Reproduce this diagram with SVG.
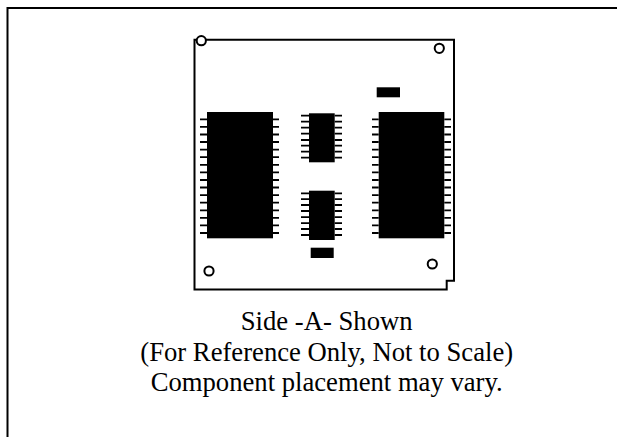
<svg xmlns="http://www.w3.org/2000/svg" width="617" height="437" viewBox="0 0 617 437">
<style>
.f{fill:none;stroke:#000;stroke-width:2}
.o{fill:none;stroke:#000;stroke-width:2}
.h{fill:#fff;stroke:#000;stroke-width:2}
.c{fill:#000}
.p{fill:none;stroke:#000;stroke-width:1.8}
text{font-family:"Liberation Serif","Times New Roman",serif;font-size:26.67px;fill:#000;text-anchor:middle}
</style>
<rect width="617" height="437" fill="#fff"/>
<g id="frame"><path class="f" d="M7.5 437V8H617"/></g>
<g id="board"><path class="o" d="M194.5 39.7H454V280.7H446.7V289.5H194.5Z"/></g>
<g id="chip-left"><rect class="c" x="207" y="112" width="66" height="126.3"/>
<path class="p" d="M200 119.3h7M273 119.3h6M200 126.9h7M273 126.9h6M200 134.5h7M273 134.5h6M200 142h7M273 142h6M200 149.6h7M273 149.6h6M200 157.2h7M273 157.2h6M200 164.8h7M273 164.8h6M200 172.4h7M273 172.4h6M200 180h7M273 180h6M200 187.5h7M273 187.5h6M200 195.1h7M273 195.1h6M200 202.7h7M273 202.7h6M200 210.3h7M273 210.3h6M200 217.9h7M273 217.9h6M200 225.4h7M273 225.4h6M200 233h7M273 233h6"/></g>
<g id="chip-mid-top"><rect class="c" x="309" y="113.3" width="25.7" height="49"/>
<path class="p" d="M301 115.7h8M334.7 115.7h7.3M301 121.7h8M334.7 121.7h7.3M301 127.7h8M334.7 127.7h7.3M301 133.7h8M334.7 133.7h7.3M301 140h8M334.7 140h7.3M301 145.7h8M334.7 145.7h7.3M301 151.7h8M334.7 151.7h7.3M301 157.7h8M334.7 157.7h7.3"/></g>
<g id="chip-mid-bottom"><rect class="c" x="309" y="190.7" width="25.7" height="49.3"/>
<path class="p" d="M301 193.3h8M334.7 193.3h7.3M301 199.2h8M334.7 199.2h7.3M301 205h8M334.7 205h7.3M301 211h8M334.7 211h7.3M301 217.2h8M334.7 217.2h7.3M301 223.2h8M334.7 223.2h7.3M301 229h8M334.7 229h7.3M301 235h8M334.7 235h7.3"/></g>
<g id="chip-right"><rect class="c" x="378.7" y="112" width="65.6" height="126.3"/>
<path class="p" d="M372 119.3h6.7M444.3 119.3h6.7M372 126.9h6.7M444.3 126.9h6.7M372 134.5h6.7M444.3 134.5h6.7M372 142h6.7M444.3 142h6.7M372 149.6h6.7M444.3 149.6h6.7M372 157.2h6.7M444.3 157.2h6.7M372 164.8h6.7M444.3 164.8h6.7M372 172.4h6.7M444.3 172.4h6.7M372 180h6.7M444.3 180h6.7M372 187.5h6.7M444.3 187.5h6.7M372 195.1h6.7M444.3 195.1h6.7M372 202.7h6.7M444.3 202.7h6.7M372 210.3h6.7M444.3 210.3h6.7M372 217.9h6.7M444.3 217.9h6.7M372 225.4h6.7M444.3 225.4h6.7M372 233h6.7M444.3 233h6.7"/></g>
<g id="cap-top"><rect class="c" x="376.7" y="87.3" width="23.3" height="10"/></g>
<g id="cap-bottom"><rect class="c" x="310.7" y="247.7" width="23" height="10.3"/></g>
<g id="holes">
<circle class="h" cx="201.3" cy="40.7" r="4.6"/>
<circle class="h" cx="439.3" cy="48.3" r="4.6"/>
<circle class="h" cx="209" cy="271" r="4.6"/>
<circle class="h" cx="432.3" cy="264" r="4.6"/>
</g>
<g id="caption">
<text x="326.7" y="330">Side -A- Shown</text>
<text x="326.7" y="360.7">(For Reference Only, Not to Scale)</text>
<text x="326.7" y="391.3">Component placement may vary.</text>
</g>
</svg>
